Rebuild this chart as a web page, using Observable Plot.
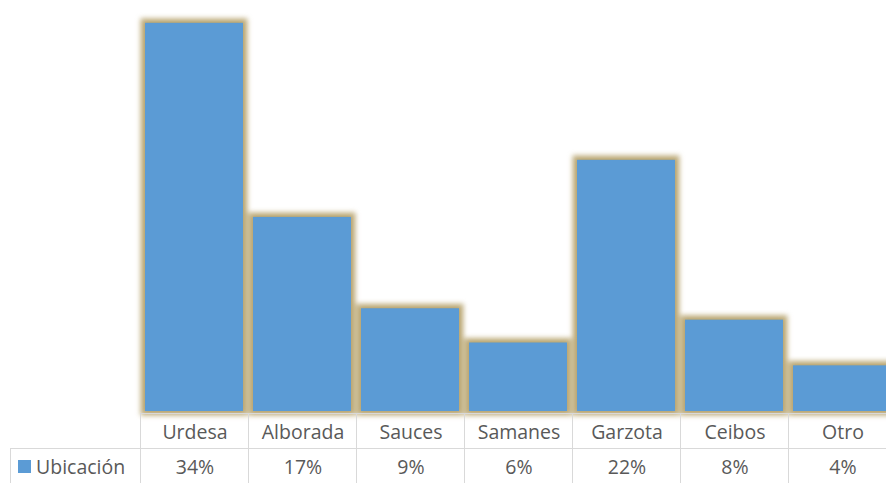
<!DOCTYPE html>
<html>
<head>
<meta charset="utf-8">
<script src="https://cdn.jsdelivr.net/npm/d3@7"></script>
<script src="https://cdn.jsdelivr.net/npm/@observablehq/plot@0.6"></script>
<style>
  html, body { margin: 0; padding: 0; background: #fff; }
  #wrap { position: relative; width: 886px; height: 483px; overflow: hidden; font-family: "Open Sans", Lato, sans-serif; color: #595959; }
  .cell { position: absolute; box-sizing: border-box; border-left: 1.5px solid #d9d9d9; border-top: 1.5px solid #d9d9d9;
          display: flex; align-items: center; justify-content: center; font-size: 19.5px; }
</style>
</head>
<body>
<div id="wrap"></div>
<script>
const categories = ["Urdesa", "Alborada", "Sauces", "Samanes", "Garzota", "Ceibos", "Otro"];
const values = [34, 17, 9, 6, 22, 8, 4];
const valueLabels = ["34%", "17%", "9%", "6%", "22%", "8%", "4%"];
const seriesName = "Ubicación";

const data = categories.map((c, i) => ({cat: c, value: values[i]}));

const chart = Plot.plot({
  width: 886,
  height: 412,
  marginTop: 0,
  marginBottom: 1,
  marginLeft: 140,
  marginRight: 0,
  x: {domain: categories, range: [140, 896], padding: 0, axis: null},
  y: {domain: [0, 36], axis: null},
  style: {overflow: "visible", background: "transparent"},
  marks: [
    // soft golden glow behind each bar
    Plot.barY(data, {
      x: "cat", y: "value", fill: "#ad975c", stroke: "#b29c62", strokeWidth: 9, strokeOpacity: 0.8,
      insetLeft: 5, insetRight: 5, imageFilter: "blur(2.8px)"
    }),
    Plot.barY(data, {
      x: "cat", y: "value", fill: "#5B9BD5", insetLeft: 5, insetRight: 5
    })
  ]
});

const wrap = document.getElementById("wrap");
chart.style.position = "absolute";
chart.style.left = "0px";
chart.style.top = "0px";
wrap.appendChild(chart);

const xs = chart.scale("x");
const bw = xs.bandwidth;
const rowTop1 = 413, rowTop2 = 448, rowH = 35;

function addCell(left, top, width, html) {
  const d = document.createElement("div");
  d.className = "cell";
  d.style.left = left + "px";
  d.style.top = top + "px";
  d.style.width = (width + 1) + "px";
  d.style.height = (rowH + 1) + "px";
  d.innerHTML = html;
  wrap.appendChild(d);
  return d;
}

categories.forEach((c, i) => {
  const left = xs.apply(c);
  addCell(left, rowTop1, bw, c);
  addCell(left, rowTop2, bw, valueLabels[i]);
});
const leg = addCell(10, rowTop2, 130, `<span style="display:inline-block;width:13px;height:13px;background:#5B9BD5;margin-right:5px;"></span>${seriesName}`);
leg.style.justifyContent = "flex-start";
leg.style.paddingLeft = "7px";
</script>
</body>
</html>
